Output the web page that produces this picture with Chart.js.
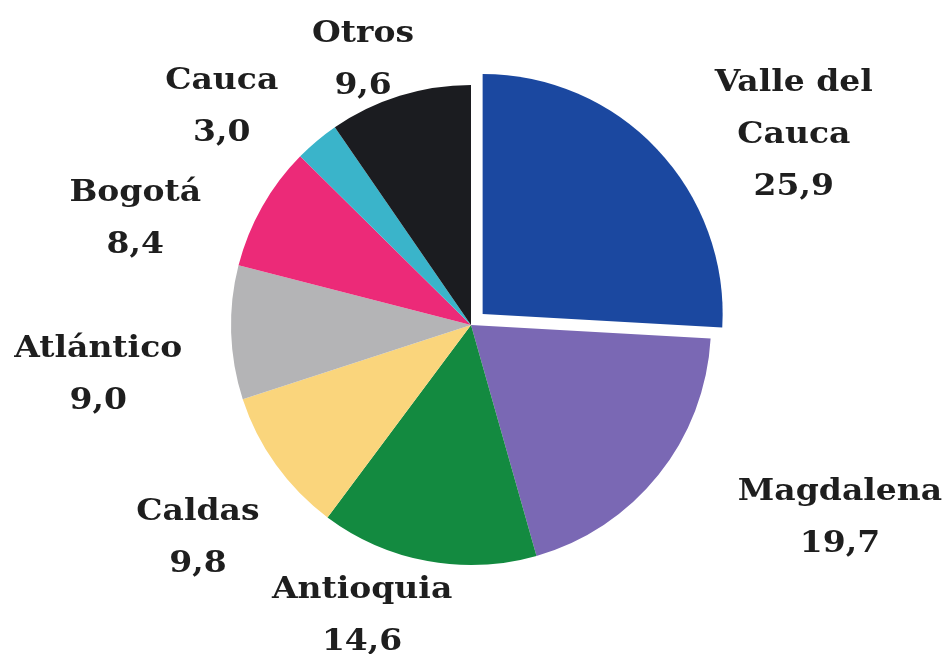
<!DOCTYPE html>
<html>
<head>
<meta charset="utf-8">
<script src="https://cdn.jsdelivr.net/npm/chart.js@4/dist/chart.umd.min.js"></script>
<style>
  html, body { margin: 0; padding: 0; background: #ffffff; }
  #wrap { width: 942px; height: 654px; }
</style>
</head>
<body>
<div id="wrap"><canvas id="c" width="942" height="654"></canvas></div>
<script>
// ---- data ----
const categories = ["Valle del Cauca", "Magdalena", "Antioquia", "Caldas", "Atlántico", "Bogotá", "Cauca", "Otros"];
const values = [25.9, 19.7, 14.6, 9.8, 9.0, 8.4, 3.0, 9.6];
const valueLabels = ["25,9", "19,7", "14,6", "9,8", "9,0", "8,4", "3,0", "9,6"];
const labelLines = [["Valle del", "Cauca"], ["Magdalena"], ["Antioquia"], ["Caldas"], ["Atlántico"], ["Bogotá"], ["Cauca"], ["Otros"]];

// ---- styles / layout ----
const colors = ["#1b48a0", "#7a68b4", "#138a40", "#fad57c", "#b4b4b6", "#ec2a78", "#3ab4ca", "#1b1c20"];
const offsets = [64, 0, 0, 0, 0, 0, 0, 0];
// label placement: angle (deg, clockwise from top) and distance (× outer radius)
const labelAngle = [59.5, 117.6, 200.5, 232, 262.4, 287.5, 311.1, 337.8];
const labelDist = [1.561, 1.735, 1.296, 1.444, 1.567, 1.467, 1.378, 1.19];
const fontSpec = 'bold 30px "DejaVu Serif"';
const textStretch = 1.1;
const lineH = 52;

const labelPlugin = {
  id: 'outerLabels',
  afterDatasetsDraw(chart) {
    const ctx = chart.ctx;
    const meta = chart.getDatasetMeta(0);
    ctx.save();
    ctx.font = fontSpec;
    ctx.fillStyle = '#1e1e1e';
    ctx.textAlign = 'center';
    ctx.textBaseline = 'middle';
    meta.data.forEach((arc, i) => {
      const r = arc.outerRadius * labelDist[i];
      const a = labelAngle[i] * Math.PI / 180;
      const cx = arc.x + Math.sin(a) * r;
      const cy = arc.y - Math.cos(a) * r;
      const lines = labelLines[i].concat([valueLabels[i]]);
      const top = cy - (lines.length - 1) * lineH / 2;
      lines.forEach((t, k) => {
        ctx.save();
        ctx.translate(cx, top + k * lineH);
        ctx.scale(textStretch, 1);
        ctx.fillText(t, 0, 0);
        ctx.restore();
      });
    });
    ctx.restore();
  }
};

new Chart(document.getElementById('c'), {
  type: 'pie',
  data: {
    labels: categories,
    datasets: [{
      data: values,
      backgroundColor: colors,
      borderWidth: 0,
      offset: offsets,
      hoverOffset: 0
    }]
  },
  options: {
    responsive: false,
    animation: false,
    radius: 240,
    layout: { padding: { top: 0, bottom: 4, left: 0, right: 0 } },
    plugins: { legend: { display: false }, tooltip: { enabled: false } },
    events: []
  },
  plugins: [labelPlugin]
});
</script>
</body>
</html>
